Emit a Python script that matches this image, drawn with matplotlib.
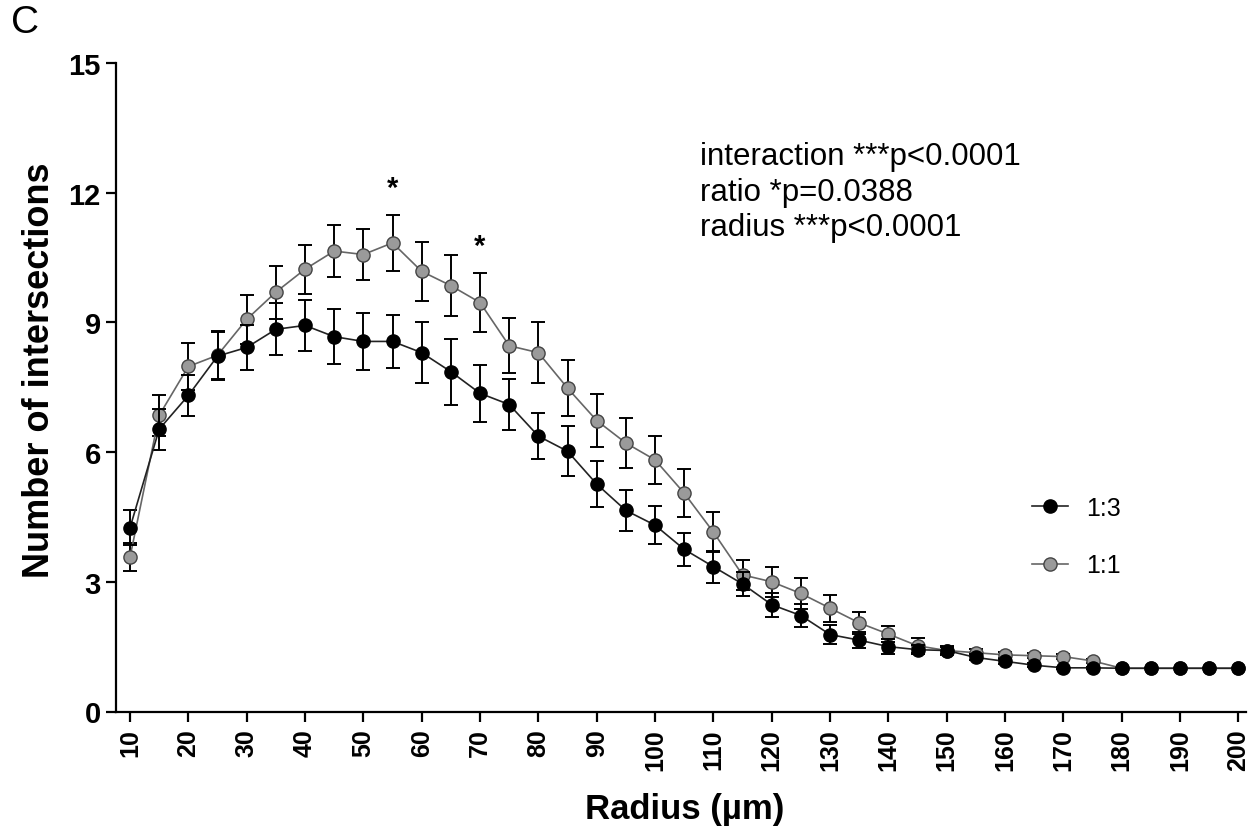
import matplotlib
matplotlib.use("Agg")
import matplotlib.pyplot as plt
import numpy as np

plt.rcParams['font.family'] = ['Liberation Sans', 'DejaVu Sans']

radius = list(range(10, 205, 5))
ratio_1_3 = [4.25, 6.53, 7.31, 8.22, 8.42, 8.84, 8.93, 8.67, 8.56, 8.56,
             8.30, 7.86, 7.36, 7.10, 6.37, 6.02, 5.26, 4.65, 4.31, 3.75,
             3.35, 2.95, 2.47, 2.22, 1.78, 1.65, 1.50, 1.43, 1.41, 1.25,
             1.16, 1.07, 1.01, 1.01, 1.0, 1.0, 1.0, 1.0, 1.0]
sem_1_3 = [0.40, 0.47, 0.48, 0.55, 0.52, 0.60, 0.58, 0.63, 0.66, 0.62,
           0.71, 0.76, 0.66, 0.58, 0.54, 0.58, 0.54, 0.48, 0.44, 0.38,
           0.37, 0.27, 0.28, 0.27, 0.21, 0.18, 0.18, 0.10, 0.08, 0.07,
           0.06, 0.05, 0.02, 0.02, 0.0, 0.0, 0.0, 0.0, 0.0]
ratio_1_1 = [3.57, 6.85, 7.98, 8.24, 9.07, 9.70, 10.23, 10.65, 10.57, 10.84,
             10.18, 9.85, 9.46, 8.46, 8.30, 7.48, 6.73, 6.21, 5.82, 5.05,
             4.15, 3.16, 3.00, 2.73, 2.39, 2.05, 1.79, 1.52, 1.41, 1.36,
             1.31, 1.29, 1.27, 1.17, 1.0, 1.0, 1.0, 1.0, 1.0]
sem_1_1 = [0.33, 0.48, 0.54, 0.56, 0.56, 0.61, 0.57, 0.60, 0.58, 0.65,
           0.68, 0.71, 0.69, 0.64, 0.71, 0.65, 0.61, 0.57, 0.55, 0.56,
           0.47, 0.34, 0.35, 0.36, 0.31, 0.26, 0.18, 0.17, 0.10, 0.08,
           0.07, 0.06, 0.06, 0.05, 0.0, 0.0, 0.0, 0.0, 0.0]

xticks = list(range(10, 201, 10))
yticks = [0, 3, 6, 9, 12, 15]
stars = [(55, '*'), (70, '*')]
stats_lines = ["interaction ***p<0.0001", "ratio *p=0.0388", "radius ***p<0.0001"]

fig = plt.figure(figsize=(12.56, 8.37), dpi=100)
ax = fig.add_axes([116/1256, 1-712.5/837, (1246-116)/1256, (712.5-64)/837])

ax.errorbar(radius, ratio_1_1, yerr=sem_1_1, fmt='none', ecolor='black',
            elinewidth=1.4, capsize=4.8, capthick=1.4, zorder=2)
ax.plot(radius, ratio_1_1, '-o', color='#666666', lw=1.2,
        markerfacecolor='#9a9a9a', markeredgecolor='#444444', markeredgewidth=1.0,
        markersize=9.5, zorder=3, label='1:1')
ax.errorbar(radius, ratio_1_3, yerr=sem_1_3, fmt='none', ecolor='black',
            elinewidth=1.4, capsize=4.8, capthick=1.4, zorder=4)
ax.plot(radius, ratio_1_3, '-o', color='#222222', lw=1.2,
        markerfacecolor='black', markeredgecolor='black', markeredgewidth=1.0,
        markersize=9.5, zorder=5, label='1:3')

ax.set_xlim(7.6, 201.3)
ax.set_ylim(0, 15)
ax.set_xticks(xticks)
ax.set_xticklabels([str(t) for t in xticks], rotation=90, fontsize=18, fontweight='bold')
ax.set_yticks(yticks)
ax.set_yticklabels([str(t) for t in yticks], fontsize=21, fontweight='bold')
ax.tick_params(axis='both', direction='out', length=7, width=1.6, colors='black')
ax.tick_params(axis='x', pad=5)
ax.tick_params(axis='y', pad=4)
for s in ['top', 'right']:
    ax.spines[s].set_visible(False)
for s in ['left', 'bottom']:
    ax.spines[s].set_linewidth(1.6)

ax.set_ylabel('Number of intersections', fontsize=26, fontweight='bold')
ax.set_xlabel('Radius (\u00b5m)', fontsize=25, fontweight='bold')
ax.yaxis.set_label_coords((40-116)/1130, (712.5-370)/648.5)
ax.xaxis.set_label_coords((685-116)/1130, (712.5-810)/648.5)
ax.yaxis.label.set_va('center')
ax.xaxis.label.set_va('center')

for xr, s in stars:
    idx = radius.index(xr)
    top = ratio_1_1[idx] + sem_1_1[idx]
    ax.text(xr, top + 0.3, s, ha='center', va='bottom', fontsize=21, fontweight='bold')

for i, line in enumerate(stats_lines):
    fig.text(700/1256, 1 - (157 + i*35.5)/837, line, fontsize=22.5, ha='left', va='center')

fig.text(11/1256, 1 - 23/837, 'C', fontsize=28, ha='left', va='center')

handles, labels = ax.get_legend_handles_labels()
leg = fig.legend(handles[::-1], labels[::-1], loc='center left',
                 bbox_to_anchor=(1032/1256, 1 - 537.5/837), frameon=False,
                 fontsize=18, handlelength=1.45, handletextpad=0.7,
                 labelspacing=1.35, borderpad=0, borderaxespad=0)

fig.savefig('out.png', dpi=100)
